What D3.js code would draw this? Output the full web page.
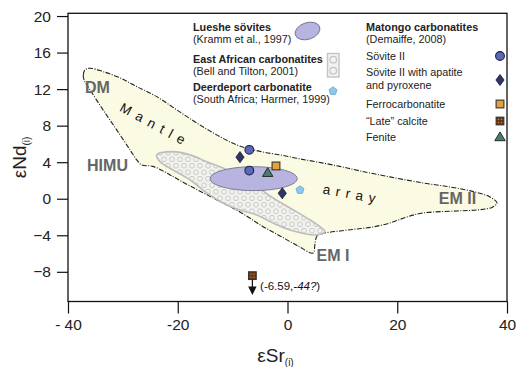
<!DOCTYPE html>
<html><head><meta charset="utf-8">
<script src="https://cdn.jsdelivr.net/npm/d3@7"></script>
<style>
html,body{margin:0;padding:0;background:#fff;}
svg{display:block;font-family:"Liberation Sans",Arial,sans-serif;}
</style></head>
<body>
<svg id="chart" width="516" height="367"></svg>
<script>
// ---- data (εSr(i), εNd(i)) ----
const xTicks = [-40, -20, 0, 20, 40];
const xTickLabels = ["- 40", "-20", "0", "20", "40"];
const yTicks = [-8, -4, 0, 4, 8, 12, 16, 20];

// Mantle array outline
const mantleArray = [
  [-37.08,13.01],[-37.21,13.56],[-36.90,14.11],[-35.99,14.29],[-33.62,13.92],[-30.52,13.23],
  [-27.48,12.28],[-23.84,11.18],[-20.19,9.73],[-16.55,8.30],[-12.90,6.99],[-9.26,5.89],
  [-6.83,5.45],[-4.10,5.07],[-0.82,4.74],[2.28,4.36],[5.38,4.03],[9.57,3.54],[13.21,3.05],
  [18.68,2.39],[24.69,1.73],[29.61,1.29],[34.17,0.74],[36.90,0.20],[38.18,-0.46],[37.27,-0.95],
  [34.53,-1.23],[30.89,-1.34],[24.69,-1.56],[21.78,-1.99],[18.68,-2.65],[15.58,-3.09],
  [12.67,-3.31],[9.57,-3.53],[6.47,-3.80],[5.38,-4.07],[5.01,-4.95],[4.65,-5.94],
  [1.91,-5.17],[-1.37,-4.07],[-4.65,-2.98],[-8.66,-1.45],[-13.21,-0.02],[-17.77,1.40],
  [-21.41,2.61],[-24.51,3.54],[-26.57,3.70],[-27.48,4.25],[-28.70,5.35],[-31.13,7.54],
  [-33.62,9.73],[-35.99,11.92]
];

// East African carbonatites field (Bell and Tilton, 2001)
const eastAfrica = [
  [-23.84,4.80],[-20.87,5.16],[-17.77,4.80],[-14.72,4.06],[-11.75,3.37],[-8.66,2.42],
  [-5.61,1.33],[-2.64,0.09],[0.46,-1.01],[3.50,-2.10],[5.92,-3.06],[6.83,-3.60],
  [5.32,-3.96],[0.46,-3.42],[-2.64,-2.65],[-5.61,-1.77],[-8.66,-1.23],[-11.75,-0.46],
  [-14.72,0.64],[-17.77,2.06],[-20.87,3.15],[-23.24,4.06]
];

// Lueshe sövites field: centre, half-widths
const lueshe = {cx: -6.16, cy: 2.20, rx: 7.95, ry: 1.31};

// Matongo carbonatites
const sovite2 = [[-6.96, 5.35], [-6.96, 3.08]];
const sovite2ApPx = [[-8.66, 4.55], [-0.95, 0.60]];
const ferrocarbonatite = [[-2.10, 3.59]];
const lateCalcite = [[-6.40, -8.42]];
const lateCalciteArrowTo = -10.55;
const lateCalciteLabel = {x: -5.0, y: -9.95, pre: "(-6.59,", it: "-44?", post: ")"};
const fenite = [[-3.61, 2.79]];
// Deerdeport carbonatite
const deerdeport = [[2.28, 0.96]];

// Field labels
const endMembers = [
  {t: "DM", x: -34.62, y: 12.19},
  {t: "HIMU", x: -32.8, y: 3.70},
  {t: "EM II", x: 30.98, y: 0.09},
  {t: "EM I", x: 8.29, y: -6.16}
];
const arrayWords = [
  {t: "Mantle", x: -24.05, y: 8.08, rot: 28.6, ls: 6.3},
  {t: "array", x: 11.75, y: 0.53, rot: 10, ls: 5.6}
];

// Legend texts
const legendLeft = [
  {t: "Lueshe sövites", b: true, y: 27.5},
  {t: "(Kramm et al., 1997)", b: false, y: 39.5},
  {t: "East African carbonatites", b: true, y: 59},
  {t: "(Bell and Tilton, 2001)", b: false, y: 71},
  {t: "Deerdeport carbonatite", b: true, y: 87.5},
  {t: "(South Africa; Harmer, 1999)", b: false, y: 99.5}
];
const legendRight = [
  {t: "Matongo carbonatites", b: true, y: 27.5},
  {t: "(Demaiffe, 2008)", b: false, y: 39.5},
  {t: "Sövite II", b: false, y: 56},
  {t: "Sövite II with apatite", b: false, y: 72.5},
  {t: "and pyroxene", b: false, y: 85},
  {t: "Ferrocarbonatite", b: false, y: 104},
  {t: "\u201CLate\u201D calcite", b: false, y: 121},
  {t: "Fenite", b: false, y: 137.5}
];

// ---- drawing ----
(function () {
const svg = d3.select("#chart");
const x = d3.scaleLinear().domain([-40, 40]).range([68, 507]);
const y = d3.scaleLinear().domain([-11.25, 20.3]).range([301.5, 13.3]);

const defs = svg.append("defs");
const hp = defs.append("pattern").attr("id", "hatch").attr("patternUnits", "userSpaceOnUse")
  .attr("width", 8).attr("height", 13);
hp.append("rect").attr("width", 8).attr("height", 13).attr("fill", "#f2f2ef");
[[4, 3.25], [0, 9.75], [8, 9.75]].forEach(p =>
  hp.append("circle").attr("cx", p[0]).attr("cy", p[1]).attr("r", 2.4)
    .attr("fill", "none").attr("stroke", "#c9c9c6").attr("stroke-width", 1));
const cp = defs.append("pattern").attr("id", "calcite").attr("patternUnits", "userSpaceOnUse")
  .attr("width", 3).attr("height", 3);
cp.append("rect").attr("width", 3).attr("height", 3).attr("fill", "#5a3418");
cp.append("circle").attr("cx", 1.5).attr("cy", 1.5).attr("r", 0.8).attr("fill", "#e07a2a");

const line = d3.line().x(d => x(d[0])).y(d => y(d[1])).curve(d3.curveCatmullRomClosed.alpha(0.5));

// Mantle array
svg.append("path").attr("d", line(mantleArray))
  .attr("fill", "#fbfbe4").attr("stroke", "#222").attr("stroke-width", 1.1)
  .attr("stroke-dasharray", "5,1.5,1,1.5");

// East African field
svg.append("path").attr("d", line(eastAfrica))
  .attr("fill", "url(#hatch)").attr("stroke", "#bdbdbd").attr("stroke-width", 1.6);

// Lueshe ellipse
svg.append("ellipse")
  .attr("cx", x(lueshe.cx)).attr("cy", y(lueshe.cy))
  .attr("rx", x(lueshe.cx + lueshe.rx) - x(lueshe.cx))
  .attr("ry", y(lueshe.cy) - y(lueshe.cy + lueshe.ry))
  .attr("fill", "#b7b4df").attr("stroke", "#74748f").attr("stroke-width", 0.9);

// Labels on the field
svg.append("g").selectAll("text").data(endMembers).join("text")
  .attr("x", d => x(d.x)).attr("y", d => y(d.y)).attr("dy", "0.36em")
  .attr("text-anchor", "middle").attr("font-size", 16).attr("font-weight", "bold")
  .attr("fill", "#666").text(d => d.t);
svg.append("g").selectAll("text").data(arrayWords).join("text")
  .attr("transform", d => `translate(${x(d.x)},${y(d.y)}) rotate(${d.rot})`)
  .attr("dy", "0.36em").attr("text-anchor", "middle").attr("font-size", 13.5)
  .attr("letter-spacing", d => d.ls).attr("fill", "#111").text(d => d.t);

// Marker shapes
const shapes = {
  circle: g => g.append("circle").attr("r", 4.4).attr("fill", "#5a69b6").attr("stroke", "#1d2145").attr("stroke-width", 1.1),
  diamond: g => g.append("path").attr("d", "M0,-5.6L4.1,0L0,5.6L-4.1,0Z").attr("fill", "#2e3565").attr("stroke", "#1a1d3a").attr("stroke-width", 0.8),
  square: g => g.append("rect").attr("x", -3.9).attr("y", -3.9).attr("width", 7.8).attr("height", 7.8).attr("fill", "#e6a03a").attr("stroke", "#333").attr("stroke-width", 1.1),
  calcite: g => g.append("rect").attr("x", -3.9).attr("y", -3.9).attr("width", 7.8).attr("height", 7.8).attr("fill", "url(#calcite)").attr("stroke", "#333").attr("stroke-width", 1),
  triangle: g => g.append("path").attr("d", "M0,-5.6L5.2,3.2L-5.2,3.2Z").attr("fill", "#4e7b70").attr("stroke", "#1f2f2b").attr("stroke-width", 1),
  pentagon: g => g.append("path").attr("d", d3.range(5).map((i) => {
      const a = -Math.PI / 2 + i * 2 * Math.PI / 5;
      return (i ? "L" : "M") + (4.2 * Math.cos(a)).toFixed(2) + "," + (4.2 * Math.sin(a)).toFixed(2);
    }).join("") + "Z").attr("fill", "#8dc7ee").attr("stroke", "#6aa6cc").attr("stroke-width", 0.8)
};
function plotSet(data, shape) {
  data.forEach(d => {
    const g = svg.append("g").attr("transform", `translate(${x(d[0])},${y(d[1])})`);
    shapes[shape](g);
  });
}
plotSet(sovite2, "circle");
plotSet(sovite2ApPx, "diamond");
plotSet(ferrocarbonatite, "square");
plotSet(fenite, "triangle");
plotSet(deerdeport, "pentagon");
plotSet(lateCalcite, "calcite");

// Late calcite arrow
const lc = lateCalcite[0];
const ax = x(lc[0]), ay0 = y(lc[1]) + 4, ayTip = y(lateCalciteArrowTo);
svg.append("line").attr("x1", ax).attr("x2", ax).attr("y1", ay0).attr("y2", ayTip - 6)
  .attr("stroke", "#111").attr("stroke-width", 1.2);
svg.append("path").attr("d", `M${ax - 4.2},${ayTip - 8.5}L${ax + 4.2},${ayTip - 8.5}L${ax},${ayTip}Z`).attr("fill", "#111");
const lt = svg.append("text").attr("x", x(lateCalciteLabel.x)).attr("y", y(lateCalciteLabel.y))
  .attr("font-size", 11.5).attr("fill", "#111");
lt.append("tspan").text(lateCalciteLabel.pre);
lt.append("tspan").attr("font-style", "italic").text(lateCalciteLabel.it);
lt.append("tspan").text(lateCalciteLabel.post);

// Axes
const pL = x.range()[0], pR = x.range()[1], pT = y.range()[1], pB = y.range()[0];
svg.append("rect").attr("x", pL).attr("y", pT).attr("width", pR - pL).attr("height", pB - pT)
  .attr("fill", "none").attr("stroke", "#111").attr("stroke-width", 1.3);
const yAxis = svg.append("g").attr("transform", `translate(${pL},0)`)
  .call(d3.axisLeft(y).tickValues(yTicks).tickSize(11).tickPadding(6).tickFormat(d3.format("d")));
const xAxis = svg.append("g").attr("transform", `translate(0,${pB})`)
  .call(d3.axisBottom(x).tickValues(xTicks).tickSize(12).tickPadding(5).tickFormat((d, i) => xTickLabels[i]));
[yAxis, xAxis].forEach(a => {
  a.select(".domain").remove();
  a.selectAll(".tick line").attr("stroke", "#111").attr("stroke-width", 1.2);
  a.selectAll(".tick text").attr("font-size", 15.5).attr("fill", "#222")
    .attr("font-family", "'Liberation Sans', Arial, sans-serif");
});

// Axis titles
const xt = svg.append("text").attr("x", (pL + pR) / 2 - 12).attr("y", 362)
  .attr("text-anchor", "middle").attr("font-size", 19).attr("fill", "#222");
xt.append("tspan").text("\u03B5Sr");
xt.append("tspan").attr("font-size", 10).attr("dy", 4).text("(i)");
const yt = svg.append("text").attr("transform", `translate(26,${(pT + pB) / 2})rotate(-90)`)
  .attr("text-anchor", "middle").attr("font-size", 19).attr("fill", "#222");
yt.append("tspan").text("\u03B5Nd");
yt.append("tspan").attr("font-size", 10).attr("dy", 4).text("(i)");

// Legend
const lg = svg.append("g").attr("font-size", 10.8).attr("fill", "#222");
lg.selectAll("text.l").data(legendLeft).join("text").attr("class", "l")
  .attr("x", 193).attr("y", d => d.y).attr("dy", "0.36em")
  .attr("font-weight", d => d.b ? "bold" : "normal").text(d => d.t);
lg.selectAll("text.r").data(legendRight).join("text").attr("class", "r")
  .attr("x", 366).attr("y", d => d.y).attr("dy", "0.36em")
  .attr("font-weight", d => d.b ? "bold" : "normal").text(d => d.t);
// legend swatches
svg.append("ellipse").attr("transform", "translate(307.5,31) rotate(-18)")
  .attr("rx", 12.8).attr("ry", 8.3).attr("fill", "#b7b4df").attr("stroke", "#74748f").attr("stroke-width", 0.9);
const hr = svg.append("g").attr("transform", "translate(327.5,53.5)");
hr.append("rect").attr("width", 11.5).attr("height", 23.5).attr("fill", "#f2f2ef").attr("stroke", "#c4c4c4").attr("stroke-width", 1.4);
[6.2, 17.2].forEach(cy => hr.append("circle").attr("cx", 5.75).attr("cy", cy).attr("r", 3.3)
  .attr("fill", "none").attr("stroke", "#c4c4c4").attr("stroke-width", 1.2));
[["pentagon", 333, 91], ["circle", 500, 56], ["diamond", 500, 80], ["square", 500, 104],
 ["calcite", 500, 121], ["triangle", 500, 137.5]].forEach(s => {
  const g = svg.append("g").attr("transform", `translate(${s[1]},${s[2]})`);
  shapes[s[0]](g);
});
})();
</script>
</body></html>
